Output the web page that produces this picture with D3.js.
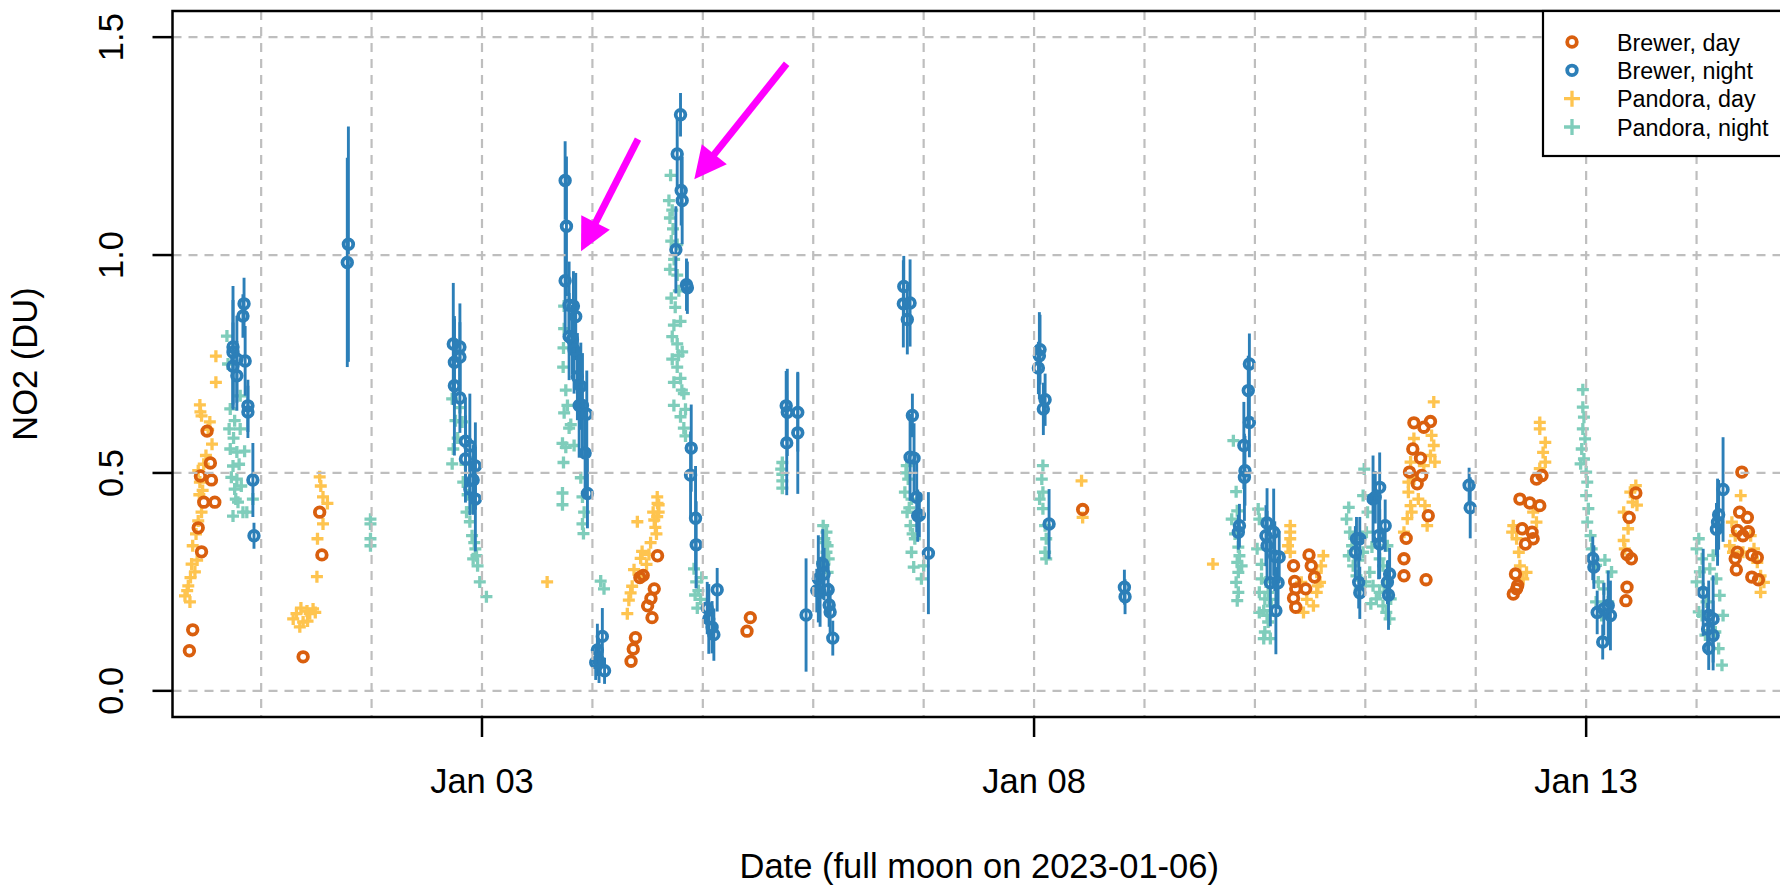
<!DOCTYPE html>
<html>
<head>
<meta charset="utf-8">
<script src="https://cdn.jsdelivr.net/npm/d3@7"></script>
<style>
  html, body { margin: 0; padding: 0; background: #fff; }
  svg { display: block; font-family: "Liberation Sans", Arial, Helvetica, sans-serif; }
</style>
</head>
<body>
<svg id="chart" width="1780" height="885"></svg>
<script>
// day = fractional day of January 2023 (1.0 = Jan 01 00:00 UTC), value in DU

const brewerDay = [
  [0.51,0.596],[0.54,0.523],[0.45,0.493],[0.55,0.484],[0.48,0.433],[0.58,0.433],[0.43,0.374],[0.46,0.319],[0.38,0.140],[0.35,0.092],
  [1.53,0.41],[1.55,0.312],[1.38,0.078],
  [4.59,0.31],[4.43,0.26],[4.46,0.265],[4.56,0.234],[4.53,0.212],[4.50,0.195],[4.54,0.168],[4.39,0.122],[4.37,0.096],[4.35,0.068],
  [5.43,0.168],[5.40,0.137],
  [8.44,0.416],
  [10.35,0.287],[10.36,0.251],[10.37,0.234],[10.49,0.312],[10.51,0.287],[10.54,0.261],[10.46,0.234],[10.35,0.213],[10.37,0.192],
  [11.44,0.615],[11.53,0.605],[11.59,0.618],[11.43,0.555],[11.50,0.534],[11.40,0.502],[11.51,0.494],[11.47,0.475],[11.57,0.402],[11.37,0.35],[11.35,0.303],[11.35,0.264],[11.55,0.255],
  [12.40,0.44],[12.49,0.431],[12.58,0.425],[12.55,0.486],[12.60,0.494],[12.42,0.372],[12.45,0.337],[12.52,0.349],[12.51,0.364],[12.36,0.268],[12.37,0.234],[12.34,0.222],[12.38,0.242],
  [13.45,0.454],[13.39,0.398],[13.37,0.313],[13.41,0.303],[13.37,0.238],[13.36,0.207],
  [14.41,0.502],[14.39,0.41],[14.46,0.398],[14.37,0.368],[14.47,0.365],[14.42,0.356],[14.37,0.318],[14.35,0.303],[14.50,0.312],[14.55,0.306],[14.36,0.278],[14.50,0.261],[14.56,0.255]
];

// [day, value, error]
const brewerNight = [
  [0.845,0.888,0.06],[0.835,0.86,0.05],[0.745,0.789,0.14],[0.745,0.777,0.12],[0.78,0.761,0.10],[0.855,0.757,0.08],[0.745,0.745,0.10],[0.78,0.723,0.08],[0.88,0.654,0.06],[0.88,0.64,0.06],[0.925,0.484,0.085],[0.935,0.356,0.03],
  [1.79,1.025,0.27],[1.78,0.983,0.24],
  [2.74,0.796,0.14],[2.80,0.789,0.10],[2.80,0.766,0.08],[2.75,0.754,0.10],[2.75,0.70,0.16],[2.80,0.672,0.08],[2.85,0.573,0.10],[2.89,0.562,0.12],[2.85,0.532,0.10],[2.94,0.516,0.10],[2.92,0.484,0.08],[2.89,0.463,0.06],[2.94,0.44,0.12],
  [3.753,1.171,0.09],[3.765,1.066,0.16],[3.753,0.941,0.12],[3.789,0.885,0.10],[3.828,0.883,0.08],[3.849,0.859,0.10],[3.789,0.813,0.10],[3.819,0.806,0.08],[3.834,0.782,0.10],[3.864,0.721,0.10],[3.895,0.699,0.10],[3.88,0.655,0.12],[3.91,0.655,0.12],[3.949,0.635,0.10],[3.934,0.546,0.10],[3.955,0.453,0.08],
  [4.045,0.094,0.06],[4.06,0.068,0.05],[4.09,0.125,0.065],[4.11,0.046,0.03],[4.03,0.065,0.04],
  [4.798,1.322,0.05],[4.768,1.232,0.08],[4.804,1.148,0.08],[4.813,1.125,0.10],[4.756,1.012,0.10],[4.852,0.932,0.06],[4.86,0.925,0.06],[4.895,0.557,0.10],[4.889,0.495,0.10],[4.934,0.396,0.12],[4.94,0.335,0.10],[5.04,0.19,0.06],[5.084,0.146,0.06],[5.10,0.129,0.06],[5.13,0.232,0.05],[5.054,0.165,0.08],
  [5.755,0.654,0.08],[5.765,0.639,0.10],[5.76,0.569,0.12],[5.86,0.639,0.09],[5.86,0.592,0.14],
  [5.935,0.174,0.13],[6.046,0.257,0.10],[6.086,0.291,0.08],[6.098,0.268,0.06],[6.062,0.227,0.08],[6.135,0.232,0.06],[6.144,0.197,0.05],[6.153,0.181,0.05],[6.177,0.121,0.04],[6.032,0.23,0.05],
  [6.82,0.928,0.07],[6.816,0.888,0.10],[6.877,0.89,0.10],[6.852,0.852,0.08],[6.898,0.632,0.05],[6.877,0.536,0.10],[6.913,0.534,0.08],[6.937,0.444,0.08],[6.946,0.402,0.06],[6.961,0.403,0.05],[7.043,0.316,0.14],
  [8.054,0.783,0.08],[8.048,0.769,0.10],[8.039,0.741,0.06],[8.10,0.668,0.06],[8.084,0.647,0.06],[8.136,0.383,0.08],
  [8.818,0.238,0.04],[8.824,0.216,0.04],
  [9.95,0.75,0.07],[9.94,0.689,0.08],[9.95,0.616,0.08],[9.90,0.563,0.10],[9.91,0.505,0.08],[9.905,0.49,0.10],[9.86,0.379,0.05],[9.85,0.364,0.04],
  [10.11,0.385,0.08],[10.10,0.356,0.07],[10.17,0.364,0.10],[10.11,0.333,0.08],[10.18,0.309,0.08],[10.14,0.248,0.10],[10.21,0.248,0.06],[10.19,0.184,0.10],[10.22,0.307,0.06],
  [10.91,0.318,0.06],[10.92,0.349,0.05],[10.95,0.349,0.05],[10.94,0.249,0.06],[10.95,0.225,0.06],[11.07,0.44,0.10],[11.09,0.444,0.06],[11.13,0.467,0.08],[11.12,0.356,0.10],[11.13,0.337,0.08],[11.18,0.379,0.06],[11.22,0.268,0.06],[11.20,0.249,0.05],[11.21,0.22,0.08],
  [11.94,0.472,0.04],[11.95,0.42,0.07],
  [13.06,0.304,0.05],[13.07,0.284,0.05],[13.10,0.18,0.05],[13.16,0.188,0.06],[13.20,0.196,0.08],[13.22,0.173,0.08],[13.15,0.112,0.04],
  [14.24,0.462,0.12],[14.20,0.404,0.08],[14.19,0.387,0.10],[14.18,0.371,0.06],[14.06,0.226,0.10],[14.11,0.173,0.08],[14.15,0.165,0.10],[14.10,0.142,0.06],[14.15,0.127,0.08],[14.11,0.098,0.05]
];

const pandoraDay = [
  [0.59,0.768],[0.59,0.708],[0.445,0.656],[0.46,0.631],[0.535,0.617],[0.555,0.566],[0.43,0.505],[0.445,0.479],[0.46,0.41],[0.43,0.39],[0.38,0.333],[0.37,0.291],[0.40,0.273],[0.34,0.241],[0.31,0.218],[0.355,0.204],
  [0.45,0.64],[0.47,0.46],[0.44,0.45],[0.50,0.54],[0.41,0.36],[0.33,0.23],[0.36,0.26],[0.42,0.30],[0.48,0.52],[0.52,0.60],
  [1.53,0.491],[1.54,0.47],[1.56,0.445],[1.60,0.43],[1.56,0.383],[1.51,0.349],[1.505,0.262],[1.47,0.188],[1.44,0.177],[1.32,0.177],[1.29,0.165],[1.38,0.158],[1.35,0.147],[1.415,0.183],[1.49,0.18],[1.36,0.19],[1.42,0.16],
  [3.59,0.25],
  [4.587,0.445],[4.60,0.427],[4.587,0.40],[4.57,0.375],[4.56,0.392],[4.527,0.34],[4.512,0.313],[4.407,0.388],[4.437,0.304],[4.377,0.278],[4.346,0.225],[4.316,0.177],[4.33,0.208],[4.437,0.26],
  [4.59,0.43],[4.58,0.36],[4.49,0.29],[4.45,0.32],[4.55,0.41],[4.36,0.24],[4.60,0.41],
  [8.43,0.482],[8.44,0.398],
  [9.62,0.291],
  [10.32,0.379],[10.32,0.364],[10.32,0.349],[10.30,0.333],[10.32,0.318],[10.62,0.31],[10.60,0.287],[10.59,0.249],[10.56,0.226],[10.53,0.195],[10.44,0.18],[10.47,0.21],[10.56,0.272],[10.57,0.241],[10.42,0.249],
  [11.62,0.663],[11.60,0.586],[11.62,0.563],[11.63,0.525],[11.59,0.54],[11.44,0.579],[11.41,0.525],[11.39,0.456],[11.41,0.425],[11.38,0.395],[11.35,0.364],[11.39,0.479],[11.44,0.486],[11.56,0.379],[11.54,0.425],[11.48,0.44],[11.42,0.41],[11.53,0.517],
  [12.58,0.616],[12.58,0.601],[12.63,0.57],[12.61,0.547],[12.63,0.525],[12.58,0.51],[12.34,0.379],[12.37,0.349],[12.39,0.318],[12.40,0.287],[12.43,0.257],[12.46,0.272],[12.33,0.364],[12.55,0.387],[12.52,0.41],
  [13.45,0.471],[13.40,0.456],[13.34,0.41],[13.38,0.372],[13.34,0.345],[13.35,0.326],[13.42,0.433],[13.46,0.426],
  [14.40,0.448],[14.32,0.387],[14.35,0.356],[14.30,0.333],[14.49,0.356],[14.52,0.326],[14.55,0.295],[14.58,0.264],[14.61,0.249],[14.58,0.226],[14.42,0.318],[14.33,0.318]
];

const pandoraNight = [
  [0.69,0.814],[0.72,0.647],[0.71,0.601],[0.81,0.601],[0.72,0.555],[0.78,0.548],[0.85,0.55],[0.745,0.516],[0.78,0.486],[0.76,0.463],[0.79,0.433],[0.745,0.401],[0.835,0.41],[0.87,0.41],[0.81,0.677],[0.925,0.44],
  [0.75,0.58],[0.80,0.52],[0.77,0.44],[0.73,0.49],[0.82,0.47],[0.70,0.75],[0.76,0.62],
  [1.99,0.394],[1.99,0.383],[1.99,0.349],[1.99,0.333],
  [2.73,0.67],[2.74,0.555],[2.73,0.521],[2.80,0.65],[2.82,0.617],[2.83,0.479],[2.86,0.41],[2.89,0.388],[2.91,0.356],[2.94,0.326],[2.92,0.303],[2.96,0.287],[2.98,0.25],[3.04,0.216],[2.78,0.58],[2.85,0.52],[2.87,0.45],[2.90,0.42],[2.93,0.34],[2.95,0.31],[2.76,0.62],
  [3.744,0.883],[3.744,0.831],[3.738,0.787],[3.735,0.743],[3.759,0.69],[3.774,0.655],[3.744,0.638],[3.789,0.603],[3.804,0.611],[3.729,0.568],[3.759,0.559],[3.834,0.563],[3.738,0.524],[3.895,0.489],[3.91,0.445],[3.729,0.454],[3.729,0.427],[3.925,0.41],[3.91,0.383],[3.919,0.361],
  [4.075,0.252],[4.105,0.234],
  [4.708,1.183],[4.693,1.125],[4.702,1.085],[4.723,1.103],[4.714,1.032],[4.768,1.024],[4.702,0.967],[4.768,0.954],[4.714,0.901],[4.783,0.918],[4.738,0.839],[4.798,0.848],[4.723,0.813],[4.768,0.796],[4.813,0.778],[4.723,0.761],[4.768,0.743],[4.798,0.717],[4.738,0.708],[4.828,0.682],[4.738,0.655],[4.843,0.646],[4.798,0.629],[4.828,0.603],[4.843,0.585],
  [4.75,0.88],[4.78,0.77],[4.81,0.69],[4.74,0.99],[4.73,1.06],
  [4.92,0.28],[4.94,0.25],[4.96,0.23],[4.98,0.21],[4.95,0.19],[4.99,0.26],[4.93,0.22],
  [5.72,0.524],[5.71,0.509],[5.72,0.497],[5.72,0.482],[5.72,0.465],
  [6.09,0.379],[6.12,0.364],[6.10,0.349],[6.13,0.333],[6.12,0.318],[6.14,0.303],[6.08,0.295],[6.13,0.272],[6.11,0.34],[6.10,0.29],
  [6.847,0.517],[6.86,0.486],[6.83,0.456],[6.89,0.44],[6.85,0.41],[6.88,0.379],[6.92,0.349],[6.89,0.318],[6.91,0.284],[7.0,0.287],[6.98,0.257],[6.84,0.50],[6.87,0.42],[6.90,0.36],
  [8.08,0.517],[8.07,0.486],[8.08,0.456],[8.05,0.44],[8.08,0.418],[8.10,0.379],[8.11,0.349],[8.10,0.318],[8.11,0.303],
  [9.805,0.574],[9.83,0.457],[9.84,0.413],[9.79,0.394],[9.85,0.33],[9.84,0.295],[9.85,0.272],[9.83,0.249],[9.85,0.226],[9.84,0.207],[9.88,0.287],[9.82,0.36],[9.86,0.31],
  [10.03,0.417],[10.04,0.394],[10.02,0.326],[10.06,0.257],[10.04,0.226],[10.09,0.211],[10.08,0.184],[10.11,0.173],[10.12,0.158],[10.09,0.135],[10.14,0.12],[10.08,0.12],[10.04,0.18],[10.12,0.226],[10.15,0.195],[10.06,0.29],[10.10,0.25],[10.13,0.21],
  [10.85,0.421],[10.83,0.394],[10.86,0.364],[10.88,0.333],[10.85,0.31],[10.89,0.287],[10.92,0.264],[10.95,0.234],[10.98,0.318],[11.01,0.364],[11.02,0.41],[10.99,0.509],[11.04,0.272],[11.07,0.241],[11.10,0.211],[11.05,0.2],[11.13,0.226],[11.16,0.195],[11.19,0.18],[11.22,0.165],[11.17,0.241],[11.23,0.211],[11.16,0.287],[11.13,0.303],[10.98,0.448],[11.20,0.333],[10.90,0.35],[11.0,0.25],[11.06,0.33],[10.94,0.30],
  [12.97,0.691],[12.97,0.651],[12.98,0.628],[12.97,0.601],[12.99,0.578],[12.96,0.555],[12.98,0.532],[12.95,0.521],[13.00,0.502],[13.01,0.479],[13.00,0.448],[13.02,0.418],[13.01,0.387],[13.04,0.356],[13.05,0.326],[13.09,0.288],[13.17,0.30],[13.23,0.273],[13.11,0.25],[13.16,0.234],[13.09,0.204],[13.20,0.204],[13.14,0.173],
  [14.02,0.349],[14.00,0.326],[14.05,0.303],[14.03,0.273],[14.00,0.25],[14.06,0.234],[14.09,0.204],[14.05,0.173],[14.02,0.181],[14.12,0.28],[14.18,0.257],[14.21,0.219],[14.24,0.173],[14.17,0.135],[14.20,0.097],[14.23,0.059],[14.08,0.128],[14.15,0.311]
];

// magenta arrows: [tailDay, tailValue, tipDay, tipValue]
const arrows = [
  [4.413, 1.266, 3.897, 1.009],
  [5.759, 1.439, 4.923, 1.174]
];

const xLimits = [0.197, 14.81];
const yLimits = [-0.06, 1.56];
const yTicks = [0, 0.5, 1.0, 1.5];
const xTickDays = ["2023-01-03", "2023-01-08", "2023-01-13"];
const legendLabels = ["Brewer, day", "Brewer, night", "Pandora, day", "Pandora, night"];

const colDayO = "#d95f0e", colNightO = "#2c7fb8", colDayP = "#fec44f", colNightP = "#7fcdbb";

const toDate = day => new Date(Date.UTC(2023, 0, 1) + (day - 1) * 864e5);

const svg = d3.select("#chart");
const padL = 172.5, padR = 1786, padT = 11, padB = 717;
const ptR = 4.8, ptW = 3.8;

const x = d3.scaleUtc().domain(xLimits.map(toDate)).range([padL, padR]);
const y = d3.scaleLinear().domain(yLimits).range([padB, padT]);

const plot = svg.append("g");
plot.append("clipPath").attr("id", "clip")
  .append("rect").attr("x", padL).attr("y", padT).attr("width", padR - padL).attr("height", padB - padT);
const inner = plot.append("g").attr("clip-path", "url(#clip)");

function cross(g, data, color) {
  g.selectAll(null).data(data).enter().append("path")
    .attr("d", d => {
      const cx = x(toDate(d[0])), cy = y(d[1]), s = 6;
      return `M${cx - s},${cy}H${cx + s}M${cx},${cy - s}V${cy + s}`;
    })
    .attr("stroke", color).attr("stroke-width", 3.3).attr("fill", "none");
}

cross(inner.append("g"), pandoraDay, colDayP);
cross(inner.append("g"), pandoraNight, colNightP);

inner.append("g").selectAll("circle").data(brewerDay).enter().append("circle")
  .attr("cx", d => x(toDate(d[0]))).attr("cy", d => y(d[1])).attr("r", ptR)
  .attr("fill", "none").attr("stroke", colDayO).attr("stroke-width", ptW);

inner.append("g").selectAll("line").data(brewerNight).enter().append("line")
  .attr("x1", d => x(toDate(d[0]))).attr("x2", d => x(toDate(d[0])))
  .attr("y1", d => y(d[1] - d[2])).attr("y2", d => y(d[1] + d[2]))
  .attr("stroke", colNightO).attr("stroke-width", 2.9);

inner.append("g").selectAll("circle").data(brewerNight).enter().append("circle")
  .attr("cx", d => x(toDate(d[0]))).attr("cy", d => y(d[1])).attr("r", ptR)
  .attr("fill", "none").attr("stroke", colNightO).attr("stroke-width", ptW);

// grid on top of the points, like R's grid()
const grid = plot.append("g").attr("stroke", "#bebebe").attr("stroke-width", 2.2)
  .attr("stroke-dasharray", "9,7");
grid.selectAll(".gy").data(yTicks).enter().append("line")
  .attr("x1", padL).attr("x2", padR).attr("y1", d => y(d)).attr("y2", d => y(d));
grid.selectAll(".gx").data(d3.utcDay.range(toDate(1), toDate(15))).enter().append("line")
  .attr("x1", d => x(d)).attr("x2", d => x(d)).attr("y1", padT).attr("y2", padB);

// arrows
const arrowG = plot.append("g").attr("fill", "#ff00ff").attr("stroke", "#ff00ff");
arrows.forEach(a => {
  const x0 = x(toDate(a[0])), y0 = y(a[1]), x1 = x(toDate(a[2])), y1 = y(a[3]);
  const len = Math.hypot(x1 - x0, y1 - y0), ux = (x1 - x0) / len, uy = (y1 - y0) / len;
  const hl = 32, hw = 16;
  const bx = x1 - ux * hl, by = y1 - uy * hl;
  arrowG.append("line").attr("x1", x0).attr("y1", y0).attr("x2", bx + ux * 4).attr("y2", by + uy * 4)
    .attr("stroke-width", 7);
  arrowG.append("path").attr("stroke", "none")
    .attr("d", `M${x1},${y1}L${bx - uy * hw},${by + ux * hw}L${bx + uy * hw},${by - ux * hw}Z`);
});

// box
svg.append("rect").attr("x", padL).attr("y", padT).attr("width", padR - padL).attr("height", padB - padT)
  .attr("fill", "none").attr("stroke", "#000").attr("stroke-width", 2.5);

// y axis
const yAxis = svg.append("g");
yAxis.selectAll("line").data(yTicks).enter().append("line")
  .attr("x1", padL - 20).attr("x2", padL).attr("y1", d => y(d)).attr("y2", d => y(d))
  .attr("stroke", "#000").attr("stroke-width", 2.5);
yAxis.selectAll("text").data(yTicks).enter().append("text")
  .attr("transform", d => `translate(123,${y(d)}) rotate(-90)`)
  .attr("text-anchor", "middle").attr("font-size", 34.5)
  .text(d => d3.format(".1f")(d));

// x axis
const xt = xTickDays.map(s => new Date(s + "T00:00:00Z"));
const xAxis = svg.append("g");
xAxis.selectAll("line").data(xt).enter().append("line")
  .attr("x1", d => x(d)).attr("x2", d => x(d)).attr("y1", padB).attr("y2", padB + 20)
  .attr("stroke", "#000").attr("stroke-width", 2.5);
xAxis.selectAll("text").data(xt).enter().append("text")
  .attr("x", d => x(d)).attr("y", 793).attr("text-anchor", "middle").attr("font-size", 34.5)
  .text(d => d3.utcFormat("%b %d")(d));

svg.append("text").attr("x", (padL + padR) / 2).attr("y", 878).attr("text-anchor", "middle")
  .attr("font-size", 34.5).text("Date (full moon on 2023-01-06)");
svg.append("text").attr("transform", `translate(37,${(padT + padB) / 2}) rotate(-90)`)
  .attr("text-anchor", "middle").attr("font-size", 34.5).text("NO2 (DU)");

// legend
const lg = svg.append("g");
lg.append("rect").attr("x", 1543).attr("y", padT).attr("width", 300).attr("height", 145)
  .attr("fill", "#fff").attr("stroke", "#000").attr("stroke-width", 2.2);
const legendColors = [colDayO, colNightO, colDayP, colNightP];
const rowY = d3.scalePoint().domain(legendLabels).range([42, 127]);
legendLabels.forEach((lab, i) => {
  const cy = rowY(lab);
  if (i < 2) {
    lg.append("circle").attr("cx", 1572).attr("cy", cy).attr("r", ptR)
      .attr("fill", "none").attr("stroke", legendColors[i]).attr("stroke-width", ptW);
  } else {
    lg.append("path").attr("d", `M1564,${cy}H1580M1572,${cy - 8}V${cy + 8}`)
      .attr("stroke", legendColors[i]).attr("stroke-width", 3.3);
  }
  lg.append("text").attr("x", 1617).attr("y", cy + 8.5).attr("font-size", 23.3).text(lab);
});
</script>
</body>
</html>
